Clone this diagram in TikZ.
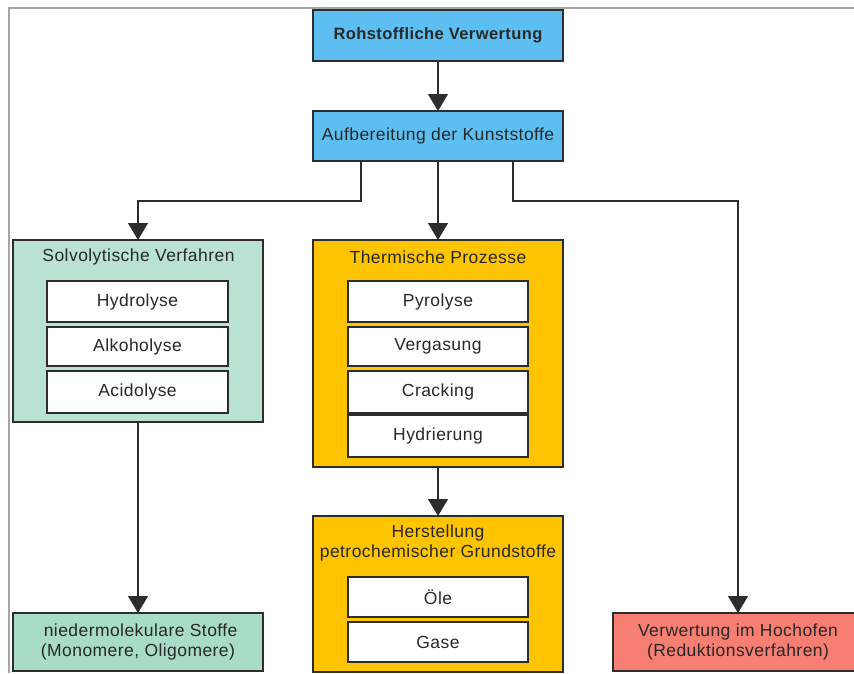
\documentclass[tikz,border=0pt]{standalone}
\usepackage{fontspec}
\setmainfont{Liberation Sans}[LetterSpace=2.5]
\usetikzlibrary{arrows.meta}
\definecolor{cblue}{RGB}{92,190,241}
\definecolor{cgreen}{RGB}{185,227,208}
\definecolor{cgreenb}{RGB}{168,220,196}
\definecolor{corange}{RGB}{255,196,0}
\definecolor{cred}{RGB}{246,126,114}
\definecolor{cline}{RGB}{45,45,45}
\definecolor{ctext}{RGB}{40,40,40}
\definecolor{cframe}{RGB}{165,165,165}
\tikzset{
  box/.style={draw=cline, line width=1.3pt, rectangle, inner sep=0pt, outer sep=0pt,
    anchor=north west, text=ctext, align=center, font=\fontsize{17.5}{19.5}\selectfont},
  subbox/.style={box, fill=white, minimum width=180pt},
  title/.style={text=ctext, align=center, inner sep=0pt, font=\fontsize{17.5}{19.5}\selectfont},
  arr/.style={draw=cline, line width=1.3pt, -{Triangle[width=20pt,length=17pt]}}
}
\begin{document}
\begin{tikzpicture}[x=1pt,y=-1pt]
\useasboundingbox (0,0) rectangle (854,673);
\fill[white] (0,0) rectangle (854,673);
\draw[cframe, line width=2pt] (8.5,673) -- (8.5,7.5) -- (854,7.5);

\node[box, fill=cblue, minimum width=250pt, minimum height=51pt, font=\fontsize{16.5}{19.5}\selectfont\bfseries] (top) at (313,10) {Rohstoffliche Verwertung};
\node[box, fill=cblue, minimum width=250pt, minimum height=50pt] (aufb) at (313,111) {Aufbereitung der Kunststoffe};

\node[box, fill=cgreen, minimum width=250pt, minimum height=182pt] (solv) at (13,240) {};
\node[title] (solvt) at (138.5,257) {Solvolytische Verfahren};
\node[subbox, minimum width=181pt, minimum height=41pt] (hydro) at (47,281) {Hydrolyse};
\node[subbox, minimum width=181pt, minimum height=39pt] (alko) at (47,327) {Alkoholyse};
\node[subbox, minimum width=181pt, minimum height=42pt] (acido) at (47,371) {Acidolyse};

\node[box, fill=corange, minimum width=250pt, minimum height=227pt] (therm) at (313,240) {};
\node[title] (thermt) at (438,257) {Thermische Prozesse};
\node[subbox, minimum height=41pt] (pyro) at (348,281) {Pyrolyse};
\node[subbox, minimum height=39pt] (verg) at (348,327) {Vergasung};
\node[subbox, minimum height=42pt] (crack) at (348,371) {Cracking};
\node[subbox, minimum height=42pt] (hydr) at (348,415) {Hydrierung};

\node[box, fill=corange, minimum width=250pt, minimum height=156pt] (herst) at (313,516) {};
\node[title] (herstt) at (438,543) {Herstellung\\petrochemischer Grundstoffe};
\node[subbox, minimum height=40pt] (oele) at (348,577) {Öle};
\node[subbox, minimum height=40pt] (gase) at (348,622) {Gase};

\node[box, fill=cgreenb, minimum width=250pt, minimum height=58pt] (nieder) at (13,613) {\ niedermolekulare Stoffe\\(Monomere, Oligomere)};
\node[box, fill=cred, minimum width=250pt, minimum height=58pt] (hoch) at (613,613) {Verwertung im Hochofen\\(Reduktionsverfahren)};

\draw[arr] (top) -- (aufb);
\draw[arr] ([xshift=-77pt]aufb.south) -- ++(0,40) -| (solv.north);
\draw[arr] (aufb) -- (therm);
\draw[arr] ([xshift=75pt]aufb.south) -- ++(0,40) -| (hoch.north);
\draw[arr] (solv) -- (nieder);
\draw[arr] (therm) -- (herst);
\end{tikzpicture}
\end{document}
